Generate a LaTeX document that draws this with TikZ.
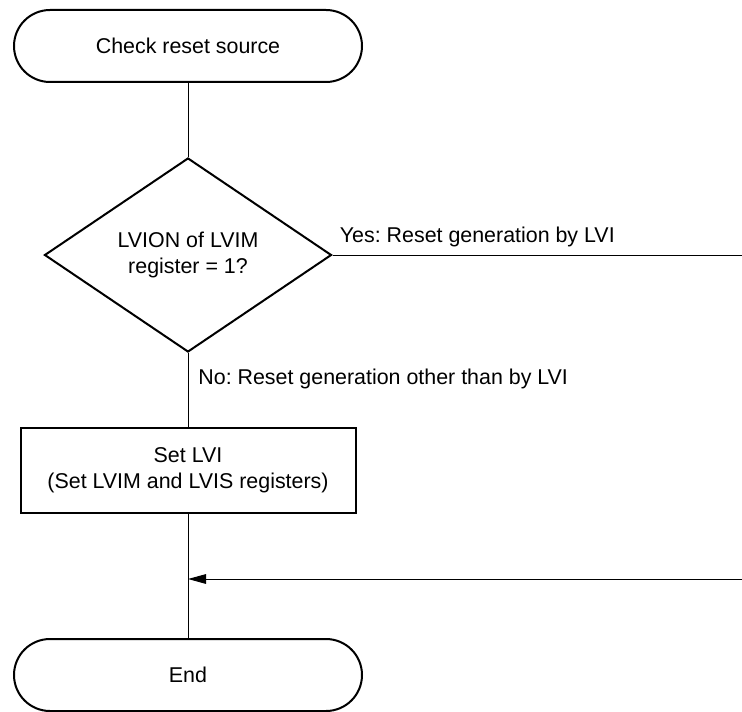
\documentclass[tikz,border=0pt]{standalone}
\usepackage{fontspec}
\setmainfont{Liberation Sans}
\usepackage{tikz}
\usetikzlibrary{arrows.meta,positioning,shapes.geometric}
\frenchspacing
\tikzset{
  termbox/.style={draw, line width=1pt, rounded corners=18pt,
    minimum width=174pt, minimum height=36pt, align=center, font=\chartfont},
  procbox/.style={draw, line width=1pt, minimum width=167.5pt,
    minimum height=42.5pt, align=center, font=\chartfont},
  decision/.style={diamond, draw, line width=1pt, inner sep=0pt, aspect=1.48,
    minimum width=143.5pt, minimum height=97pt, align=center, font=\chartfont},
  lbl/.style={inner sep=0pt, font=\chartfont},
  flow/.style={line width=0.5pt},
  arrowflow/.style={-{Triangle[length=9pt,width=4.8pt]}, line width=0.5pt}
}
\newcommand{\chartfont}{\fontsize{10.7}{13}\selectfont}

\begin{document}
\begin{tikzpicture}[x=0.5pt, y=-0.5pt]
\useasboundingbox (0,0) rectangle (742,711);

\node[termbox] (start) at (188,46) {Check reset source};
\node[decision, below=37pt of start] (dec) {LVION of LVIM\\register = 1?};
\node[procbox, below=37pt of dec] (setlvi) {Set LVI\\(Set LVIM and LVIS registers)};
\node[termbox, below=62pt of setlvi] (end) {End};

\coordinate (rightedge) at (742,0);
\coordinate (yesend) at (dec.east -| rightedge);
\coordinate (retend) at (742,579);
\coordinate (merge) at (retend -| setlvi.south);

\draw[flow] (start) -- (dec);
\draw[flow] (dec.east) -- (yesend);
\draw[flow] (dec) -- (setlvi);
\draw[flow] (setlvi) -- (end);
\draw[arrowflow] (retend) -- (merge);

\node[lbl, anchor=base west] (yeslbl) at ([shift={(7,-13)}]dec.east) {Yes: Reset generation by LVI};
\node[lbl, anchor=base west] (nolbl) at ([shift={(10,31)}]dec.south) {No: Reset generation other than by LVI};
\end{tikzpicture}
\end{document}
